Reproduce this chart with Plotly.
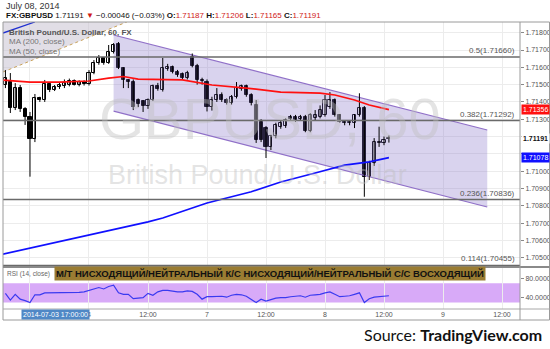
import plotly.graph_objects as go

W, H = 550, 349
def PX(x): return x / W
def PY(y): return 1 - y / H

FONT = "Liberation Sans, Arial, sans-serif"

# ---------------- data ----------------
bar_idx = list(range(-17, 62))
opens = [1.71498,1.71518,1.71363,1.71480,1.71359,1.71313,1.71184,1.71424,1.71411,1.71503,
         1.71469,1.71486,1.71492,1.71500,1.71520,1.71500,1.71515,
         1.71505,1.71565,1.71625,1.71654,1.71625,1.71688,1.71735,1.71596,1.71527,1.71515,
         1.71411,1.71405,1.71378,1.71411,1.71492,1.71470,1.71590,1.71600,1.71575,1.71560,
         1.71540,1.71660,1.71610,1.71527,1.71518,1.71372,1.71411,1.71440,1.71411,1.71394,
         1.71430,1.71475,1.71492,1.71440,1.71382,1.71284,1.71249,1.71139,1.71203,1.71257,
         1.71262,1.71315,1.71315,1.71300,1.71315,1.71234,1.71305,1.71315,1.71324,1.71372,
         1.71411,1.71324,1.71286,1.71276,1.71276,1.71324,1.71363,1.70968,1.71045,1.71170,
         1.71160,1.71187]
highs = [1.71584,1.71567,1.71509,1.71498,1.71370,1.71342,1.71446,1.71430,1.71527,1.71515,
         1.71498,1.71515,1.71530,1.71535,1.71530,1.71525,1.71525,
         1.71584,1.71642,1.71671,1.71660,1.71729,1.71740,1.71746,1.71600,1.71530,1.71530,
         1.71420,1.71410,1.71420,1.71500,1.71510,1.71654,1.71620,1.71610,1.71585,1.71570,
         1.71580,1.71680,1.71620,1.71540,1.71530,1.71430,1.71480,1.71455,1.71420,1.71440,
         1.71515,1.71500,1.71500,1.71450,1.71411,1.71300,1.71260,1.71210,1.71280,1.71290,
         1.71305,1.71325,1.71325,1.71325,1.71325,1.71335,1.71353,1.71380,1.71440,1.71457,
         1.71420,1.71330,1.71295,1.71295,1.71330,1.71450,1.71376,1.71060,1.71191,1.71257,
         1.71200,1.71206]
lows = [1.71480,1.71336,1.71353,1.71342,1.71267,1.70968,1.71168,1.71400,1.71400,1.71457,
        1.71463,1.71475,1.71480,1.71490,1.71495,1.71490,1.71495,
        1.71495,1.71560,1.71615,1.71615,1.71620,1.71680,1.71590,1.71480,1.71480,1.71353,
        1.71370,1.71342,1.71360,1.71405,1.71465,1.71460,1.71580,1.71565,1.71545,1.71530,
        1.71530,1.71600,1.71500,1.71500,1.71345,1.71350,1.71400,1.71400,1.71385,1.71385,
        1.71420,1.71465,1.71430,1.71380,1.71163,1.71168,1.71076,1.71122,1.71190,1.71245,
        1.71250,1.71290,1.71285,1.71290,1.71225,1.71225,1.71290,1.71305,1.71315,1.71360,
        1.71315,1.71280,1.71265,1.71265,1.71249,1.71315,1.70852,1.70949,1.71030,1.71140,
        1.71150,1.71165]
closes = [1.71538,1.71363,1.71480,1.71359,1.71313,1.71184,1.71424,1.71411,1.71503,1.71469,
          1.71486,1.71498,1.71509,1.71520,1.71500,1.71515,1.71505,
          1.71565,1.71625,1.71654,1.71625,1.71688,1.71729,1.71596,1.71527,1.71515,1.71369,
          1.71388,1.71378,1.71411,1.71492,1.71475,1.71596,1.71600,1.71575,1.71555,1.71540,
          1.71567,1.71610,1.71527,1.71520,1.71372,1.71411,1.71440,1.71411,1.71394,1.71430,
          1.71480,1.71492,1.71440,1.71394,1.71180,1.71180,1.71139,1.71203,1.71267,1.71278,
          1.71295,1.71300,1.71295,1.71315,1.71234,1.71324,1.71324,1.71353,1.71411,1.71411,
          1.71324,1.71286,1.71276,1.71286,1.71324,1.71363,1.70968,1.71045,1.71170,1.71160,
          1.71180,1.71191]

rsi = [49,35,47,37,34,30,46,46,50,50,50,51,51,51,51,51,52,
       55,59,61,58,63,66,50,47,47,38,
       39,40,49,45,52,55,55,53,52,52,
       54,53,47,37,42,42,43,43,41,45,
       47,46,43,37,30,37,33,36,39,40,
       40,42,43,44,41,45,46,47,50,52,
       47,42,43,44,47,50,30,38,41,42,
       42,44]

ma50_x = [-18, -12, -6, 0, 4, 7, 10, 15, 19, 25, 32, 39, 47, 50, 54, 57, 61]
ma50_y = [1.71527,1.71515,1.71515,1.71521,1.71538,1.71547,1.71532,1.71527,1.71527,
          1.71498,1.71480,1.71457,1.71451,1.71440,1.71411,1.71382,1.71356]
ma200_x = [-18, -12, -6, 0, 12, 15, 24, 33, 39, 46, 52, 57, 61]
ma200_y = [1.70517,1.70555,1.70590,1.70630,1.70707,1.70729,1.70816,1.70881,1.70937,
           1.70989,1.71035,1.71054,1.71078]

channel_x = [5, 81]
channel_upper = [1.71787, 1.71238]
channel_lower = [1.71347, 1.70793]

fib_ratios = ["0.5", "0.382", "0.236", "0.114"]
fib_prices = [1.71660, 1.71292, 1.70836, 1.70455]

tri_x = [-17.5, 7.7]
tri_y = [1.71573, 1.71862]
drawn_blue_x = [-17.5, -11]
drawn_blue_y = [1.71798, 1.71862]

price_ticks = [round(1.705 + 0.001 * i, 3) for i in range(14)]
price_hidden = [1.711, 1.712]          # covered by the value tags in the reference
price_ticktext = ["" if t in price_hidden else f"{t:.5f}" for t in price_ticks]
x_tickvals = [-12, 0, 12, 24, 36, 48, 60, 72, 84]
x_ticktext = ["", "4", "12:00", "7", "12:00", "8", "12:00", "9", "12:00"]  # first hidden by tooltip
rsi_ticks = [40, 80]

last_price = closes[-1]

# ---------------- figure ----------------
fig = go.Figure()

# drawing: shaded triangle + dotted line (top-left)
fig.add_trace(go.Scatter(x=[tri_x[0], tri_x[1], tri_x[0], tri_x[0]],
                         y=[tri_y[0], tri_y[1], tri_y[1], tri_y[0]],
                         fill="toself", fillcolor="rgba(200,194,210,0.55)",
                         line=dict(width=0), mode="lines", hoverinfo="skip"))
fig.add_trace(go.Scatter(x=tri_x, y=tri_y, mode="lines",
                         line=dict(color="#c9a25a", width=1, dash="dot"), hoverinfo="skip"))
fig.add_trace(go.Scatter(x=drawn_blue_x, y=drawn_blue_y, mode="lines",
                         line=dict(color="#2030d0", width=1.3), hoverinfo="skip"))

# channel
fig.add_trace(go.Scatter(x=[channel_x[0], channel_x[1], channel_x[1], channel_x[0], channel_x[0]],
                         y=[channel_upper[0], channel_upper[1], channel_lower[1], channel_lower[0], channel_upper[0]],
                         fill="toself", fillcolor="rgba(130,110,200,0.30)",
                         line=dict(width=0), mode="lines", hoverinfo="skip"))
for arr in (channel_upper, channel_lower):
    fig.add_trace(go.Scatter(x=channel_x, y=arr, mode="lines",
                             line=dict(color="#9070c8", width=1.2), hoverinfo="skip"))

# wicks
wx, wy = [], []
for i, h, l in zip(bar_idx, highs, lows):
    wx += [i, i, None]
    wy += [l, h, None]
fig.add_trace(go.Scatter(x=wx, y=wy, mode="lines", line=dict(color="#000", width=1),
                         hoverinfo="skip"))

# bodies
base = [min(o, c) for o, c in zip(opens, closes)]
hgt = [max(abs(c - o), 0.00003) for o, c in zip(opens, closes)]
cols = ["#ffffff" if c >= o else "#000000" for o, c in zip(opens, closes)]
fig.add_trace(go.Bar(x=bar_idx, y=hgt, base=base, width=0.62,
                     marker=dict(color=cols, line=dict(color="#000", width=1)),
                     hoverinfo="skip"))

# moving averages
fig.add_trace(go.Scatter(x=ma50_x, y=ma50_y, mode="lines", line=dict(color="#ff1010", width=1.7),
                         hoverinfo="skip"))
fig.add_trace(go.Scatter(x=ma200_x, y=ma200_y, mode="lines", line=dict(color="#1010ff", width=1.7),
                         hoverinfo="skip"))

# RSI
fig.add_trace(go.Scatter(x=bar_idx, y=rsi, mode="lines", xaxis="x2", yaxis="y2",
                         line=dict(color="#3a3af0", width=1.2), hoverinfo="skip"))

xd = [PX(3), PX(520)]
xr = [-17.49, 87.66]
grid = "#ececec"
tickfont = dict(family=FONT, size=7, color="#555")

shapes = []
# RSI band
shapes.append(dict(type="rect", xref="x2", yref="y2", x0=xr[0], x1=xr[1], y0=30, y1=70,
                   fillcolor="#d8aaf8", line=dict(width=0), layer="below"))
# fib lines
for p in fib_prices:
    shapes.append(dict(type="line", xref="paper", yref="y", x0=PX(3), x1=PX(520), y0=p, y1=p,
                       line=dict(color="#6a6a6a", width=1.5)))
# frame and separators
shapes.append(dict(type="rect", xref="paper", yref="paper", x0=PX(3), x1=PX(549.5),
                   y0=PY(320), y1=PY(22), line=dict(color="#9a9a9a", width=1)))
shapes.append(dict(type="line", xref="paper", yref="paper", x0=PX(3), x1=PX(549.5),
                   y0=PY(267), y1=PY(267), line=dict(color="#8a8a8a", width=2)))
shapes.append(dict(type="line", xref="paper", yref="paper", x0=PX(3), x1=PX(549.5),
                   y0=PY(309), y1=PY(309), line=dict(color="#a8a8a8", width=1)))
shapes.append(dict(type="line", xref="paper", yref="paper", x0=PX(520), x1=PX(520),
                   y0=PY(320), y1=PY(22), line=dict(color="#9a9a9a", width=1)))

ann = []
# header
ann.append(dict(x=PX(4), y=PY(6), xref="paper", yref="paper", xanchor="left", yanchor="middle",
                text="July 08, 2014", showarrow=False, font=dict(family=FONT, size=9, color="#333")))
red = "#d01818"
hdr = (f"<b>FX:GBPUSD</b> {last_price:.5f} <span style='color:{red}'>▼</span> −0.00046 (−0.03%) "
       f"<b>O:</b><span style='color:{red}'>{opens[-1]:.5f}</span> "
       f"<b>H:</b><span style='color:{red}'>{highs[-1]:.5f}</span> "
       f"<b>L:</b><span style='color:{red}'>{lows[-1]:.5f}</span> "
       f"<b>C:</b><span style='color:{red}'>{closes[-1]:.5f}</span>")
ann.append(dict(x=PX(4), y=PY(15.5), xref="paper", yref="paper", xanchor="left", yanchor="middle",
                text=hdr, showarrow=False, font=dict(family=FONT, size=8, color="#111")))
# legend labels
ann.append(dict(x=PX(7), y=PY(32), xref="paper", yref="paper", xanchor="left", yanchor="middle",
                text="<b>British Pound/U.S. Dollar, 60, FX</b>", showarrow=False,
                font=dict(family=FONT, size=8, color="#555")))
ann.append(dict(x=PX(7), y=PY(42), xref="paper", yref="paper", xanchor="left", yanchor="middle",
                text="MA (200, close)", showarrow=False, font=dict(family=FONT, size=8, color="#777")))
ann.append(dict(x=PX(7), y=PY(51), xref="paper", yref="paper", xanchor="left", yanchor="middle",
                text="MA (50, close)", showarrow=False, font=dict(family=FONT, size=8, color="#777")))
# watermark
ann.append(dict(x=PX(270), y=PY(118), xref="paper", yref="paper", xanchor="center", yanchor="middle",
                text="GBPUSD, 60", showarrow=False,
                font=dict(family=FONT, size=58, color="rgba(190,190,190,0.42)")))
ann.append(dict(x=PX(257), y=PY(175), xref="paper", yref="paper", xanchor="center", yanchor="middle",
                text="British Pound/U.S. Dollar", showarrow=False,
                font=dict(family=FONT, size=27, color="rgba(190,190,190,0.42)")))
# fib labels
for r, p in zip(fib_ratios, fib_prices):
    ann.append(dict(x=PX(517), y=p, xref="paper", yref="y", xanchor="right", yanchor="bottom",
                    yshift=0, text=f"{r}({p:.5f})", showarrow=False,
                    font=dict(family=FONT, size=8, color="#555")))
# axis value labels
ann.append(dict(x=PX(521), y=ma50_y[-1], xref="paper", yref="y", xanchor="left", yanchor="middle",
                text=f"{ma50_y[-1]:.5f}", showarrow=False, bgcolor="#ff1010", borderpad=1,
                font=dict(family=FONT, size=7, color="#fff")))
ann.append(dict(x=PX(521), y=ma200_y[-1], xref="paper", yref="y", xanchor="left", yanchor="middle",
                text=f"{ma200_y[-1]:.5f}", showarrow=False, bgcolor="#1010ff", borderpad=1,
                font=dict(family=FONT, size=7, color="#fff")))
ann.append(dict(x=PX(521), y=last_price, xref="paper", yref="y", xanchor="left", yanchor="middle",
                text=f"<b>{last_price:.5f}</b>", showarrow=False, bgcolor="#ffffff", borderpad=1,
                font=dict(family=FONT, size=7, color="#111")))
# RSI label + banner
ann.append(dict(x=PX(5), y=PY(274), xref="paper", yref="paper", xanchor="left", yanchor="middle",
                text="RSI (14, close)", showarrow=False, font=dict(family=FONT, size=6.5, color="#666")))
ann.append(dict(x=PX(54), y=PY(273.5), xref="paper", yref="paper", xanchor="left", yanchor="middle",
                text="<b>М/Т НИСХОДЯЩИЙ/НЕЙТРАЛЬНЫЙ К/С НИСХОДЯЩИЙ/НЕЙТРАЛЬНЫЙ С/С ВОСХОДЯЩИЙ</b>",
                showarrow=False, bgcolor="#9a7c32", borderpad=1,
                font=dict(family=FONT, size=9.5, color="#111")))
# time tooltip
ann.append(dict(x=PX(55.5), y=PY(314.5), xref="paper", yref="paper", xanchor="center", yanchor="middle",
                text="2014-07-03 17:00:00", showarrow=False, bgcolor="#4f88c6", borderpad=1,
                font=dict(family=FONT, size=7, color="#fff")))
# source
ann.append(dict(x=PX(544), y=PY(334), xref="paper", yref="paper", xanchor="right", yanchor="middle",
                text="Source: <b>TradingView.com</b>", showarrow=False,
                font=dict(family="Lato, Open Sans, sans-serif", size=16, color="#111")))

fig.update_layout(
    width=W, height=H, margin=dict(l=0, r=0, t=0, b=0),
    paper_bgcolor="#fff", plot_bgcolor="#fff", showlegend=False, bargap=0,
    xaxis=dict(domain=xd, range=xr, tickvals=x_tickvals, showticklabels=False, showgrid=True,
               gridcolor=grid, zeroline=False, showline=False, anchor="y"),
    yaxis=dict(domain=[PY(267), PY(22)], range=[1.70446, 1.71862], side="right", anchor="x",
               tickvals=price_ticks, ticktext=price_ticktext, tickfont=tickfont, ticks="outside",
               ticklen=3, tickcolor="#888", showgrid=True, gridcolor=grid, zeroline=False),
    xaxis2=dict(domain=xd, range=xr, anchor="y2", tickvals=x_tickvals, ticktext=x_ticktext,
                tickfont=tickfont, showgrid=True, gridcolor=grid, zeroline=False, ticks=""),
    yaxis2=dict(domain=[PY(309), PY(268)], range=[16.7, 101.2], side="right", anchor="x2",
                tickvals=rsi_ticks, tickformat=".4f", tickfont=tickfont, ticks="outside",
                ticklen=3, tickcolor="#888", showgrid=False, zeroline=False),
    shapes=shapes, annotations=ann,
)

fig.write_html("out.html")
